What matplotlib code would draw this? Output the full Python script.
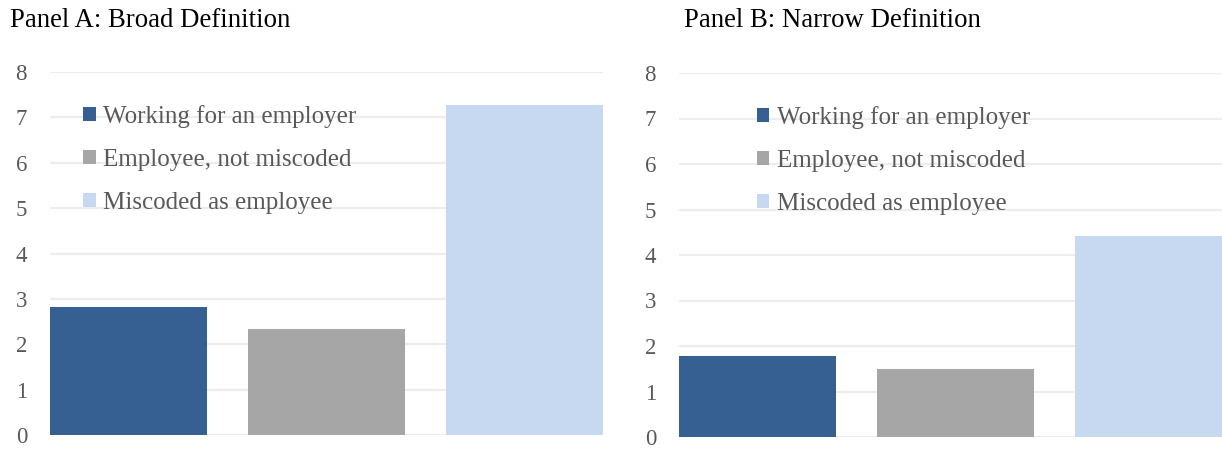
import matplotlib
matplotlib.use("Agg")
import matplotlib.pyplot as plt
from matplotlib.patches import Patch

categories = ["Working for an employer", "Employee, not miscoded", "Miscoded as employee"]
broad_values = [2.82, 2.33, 7.27]
narrow_values = [1.78, 1.49, 4.41]
panel_titles = ["Panel A: Broad Definition", "Panel B: Narrow Definition"]
y_ticks = [0, 1, 2, 3, 4, 5, 6, 7, 8]

colors = ["#366092", "#a6a6a6", "#c6d9f0"]
GRID = "#ededed"
TICK = "#595959"
SERIF = "Liberation Serif"

W, H = 1222, 449
fig = plt.figure(figsize=(W / 100, H / 100), dpi=100)
fig.patch.set_facecolor("white")


def px_axes(left, bottom, width, height):
    return fig.add_axes([left / W, bottom / H, width / W, height / H])


panels = [
    # axes left px, bottom px, height px, legend x (axes frac), title x px
    (50, 14, 363, broad_values, 0.06, 10),
    (679, 12, 364, narrow_values, 0.141, 684),
]

for (left, bottom, height, values, leg_x, title_x), title in zip(panels, panel_titles):
    ax = px_axes(left, bottom, 553, height)
    x = range(len(categories))
    ax.bar(x, values, width=0.79, color=colors, zorder=3)

    ax.set_xlim(-0.395, 2.395)
    ax.set_ylim(0, 8)
    ax.set_yticks(y_ticks)
    ax.set_yticklabels([str(t) for t in y_ticks], fontfamily=SERIF,
                       fontsize=16.5, color=TICK)
    ax.tick_params(axis="y", length=0, pad=16.5)
    ax.set_xticks([])
    for s in ax.spines.values():
        s.set_visible(False)
    ax.yaxis.grid(True, color=GRID, linewidth=1.6, zorder=0)
    ax.set_axisbelow(True)

    handles = [Patch(facecolor=c, edgecolor="none") for c in colors]
    leg = ax.legend(handles, categories, loc="upper left",
                    bbox_to_anchor=(leg_x, 0.91), frameon=False,
                    borderpad=0, borderaxespad=0, handlelength=0.5,
                    handleheight=0.5, handletextpad=0.3, labelspacing=0.85,
                    prop={"family": SERIF, "size": 18})
    for t in leg.get_texts():
        t.set_color(TICK)

    fig.text(title_x / W, (H - 27) / H, title, fontfamily=SERIF,
             fontsize=19.3, color="black", va="baseline", ha="left")

fig.savefig("out.png", dpi=100, facecolor="white")
